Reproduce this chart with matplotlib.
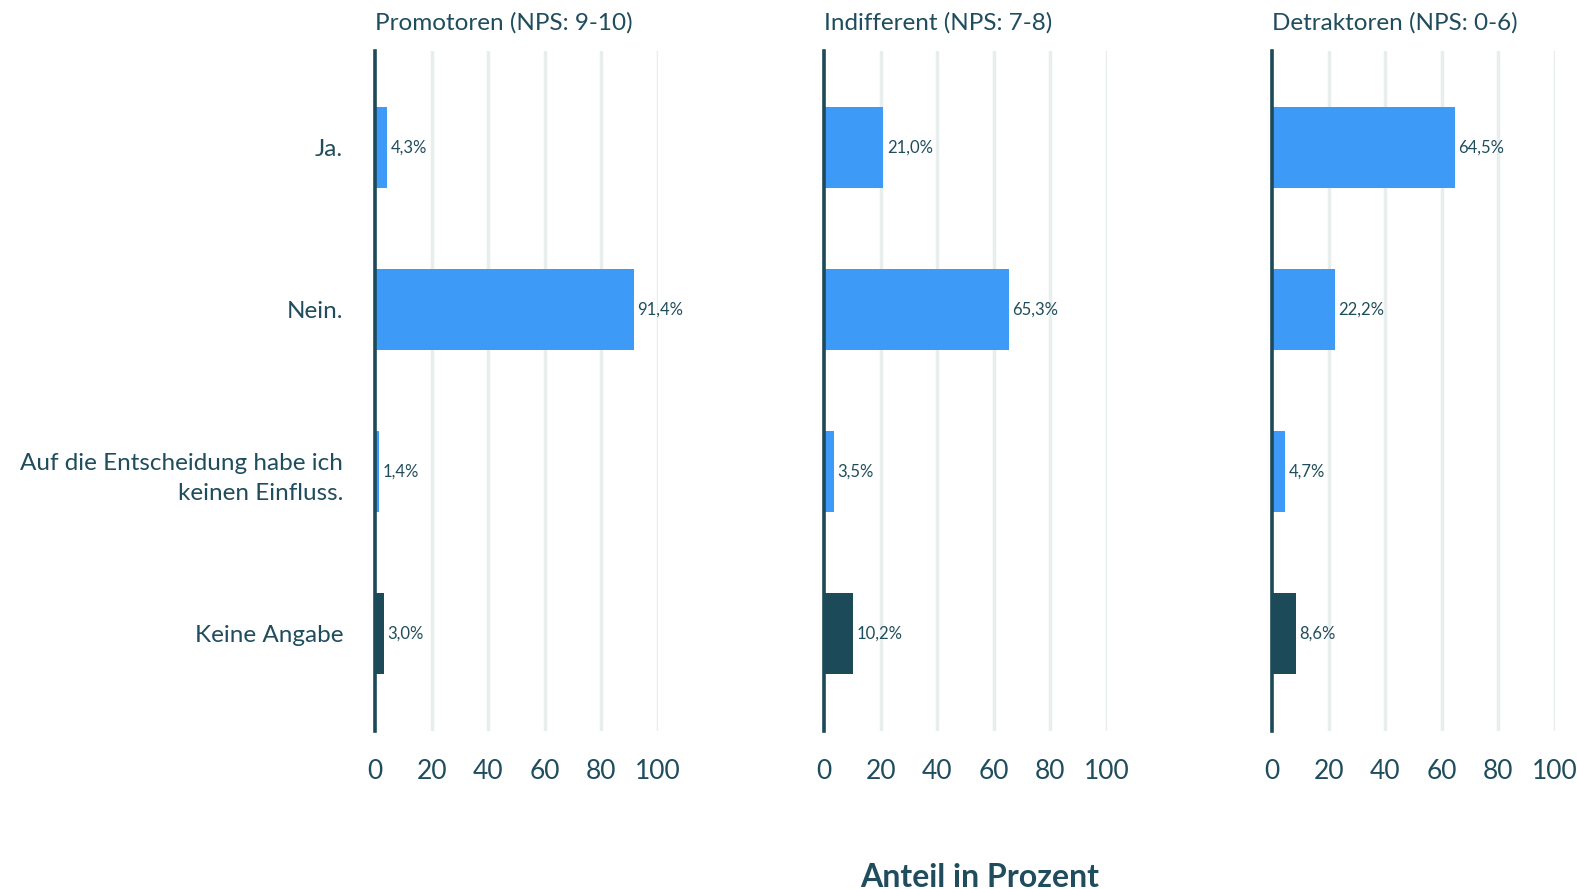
import matplotlib
matplotlib.use('Agg')
import matplotlib.pyplot as plt
import numpy as np

plt.rcParams['font.family'] = ['Lato', 'DejaVu Sans']

# Daten
categories = ['Ja.', 'Nein.', 'Auf die Entscheidung habe ich\nkeinen Einfluss.', 'Keine Angabe']
groups = ['Promotoren (NPS: 9-10)', 'Indifferent (NPS: 7-8)', 'Detraktoren (NPS: 0-6)']
promotoren = [4.3, 91.4, 1.4, 3.0]
indifferent = [21.0, 65.3, 3.5, 10.2]
detraktoren = [64.5, 22.2, 4.7, 8.6]
values = [promotoren, indifferent, detraktoren]
ticks = [0, 20, 40, 60, 80, 100]

blue = '#3d9af6'
dark = '#1c4a59'
text_color = '#1f4d5d'
grid_color = '#e8eeee'

fig = plt.figure(figsize=(15.77, 8.89), dpi=100)
fig.patch.set_facecolor('white')

lefts = [0.2378, 0.5225, 0.8066]
width = 0.1795
bottom = 0.178
height = 0.765

y = np.arange(len(categories))
for i, (left, title, vals) in enumerate(zip(lefts, groups, values)):
    ax = fig.add_axes([left, bottom, width, height])
    colors = [blue, blue, blue, dark]
    ax.barh(y, vals, height=0.5, color=colors, zorder=3)
    ax.set_ylim(3.6, -0.6)
    ax.set_xlim(0, 100)

    # Gitter
    for t in ticks[1:]:
        ax.axvline(t, color=grid_color, lw=2.5, zorder=1)

    for s in ['top', 'right', 'bottom']:
        ax.spines[s].set_visible(False)
    ax.spines['left'].set_color(dark)
    ax.spines['left'].set_linewidth(2.6)
    ax.spines['left'].set_zorder(4)

    ax.set_xticks(ticks)
    ax.set_xticklabels([str(t) for t in ticks], fontsize=19, color=text_color)
    ax.tick_params(axis='x', length=0, pad=20)
    ax.tick_params(axis='y', length=0, pad=23)
    ax.set_yticks(y)
    if i == 0:
        ax.set_yticklabels(categories, fontsize=17.5, color=text_color, ha='right',
                           linespacing=1.55)
    else:
        ax.set_yticklabels([])

    ax.set_title(title, loc='left', fontsize=17.5, color=text_color, pad=15)

    for yi, v in zip(y, vals):
        ax.text(v + 1.2, yi, f'{v:.1f}%'.replace('.', ','), va='center', ha='left',
                fontsize=12, color=text_color, clip_on=False, zorder=5)

fig.text(0.621, 0.013, 'Anteil in Prozent', ha='center', va='center',
         fontsize=23, fontweight='bold', color=text_color)

plt.savefig('out.png', dpi=100, facecolor=fig.get_facecolor())
plt.close(fig)
